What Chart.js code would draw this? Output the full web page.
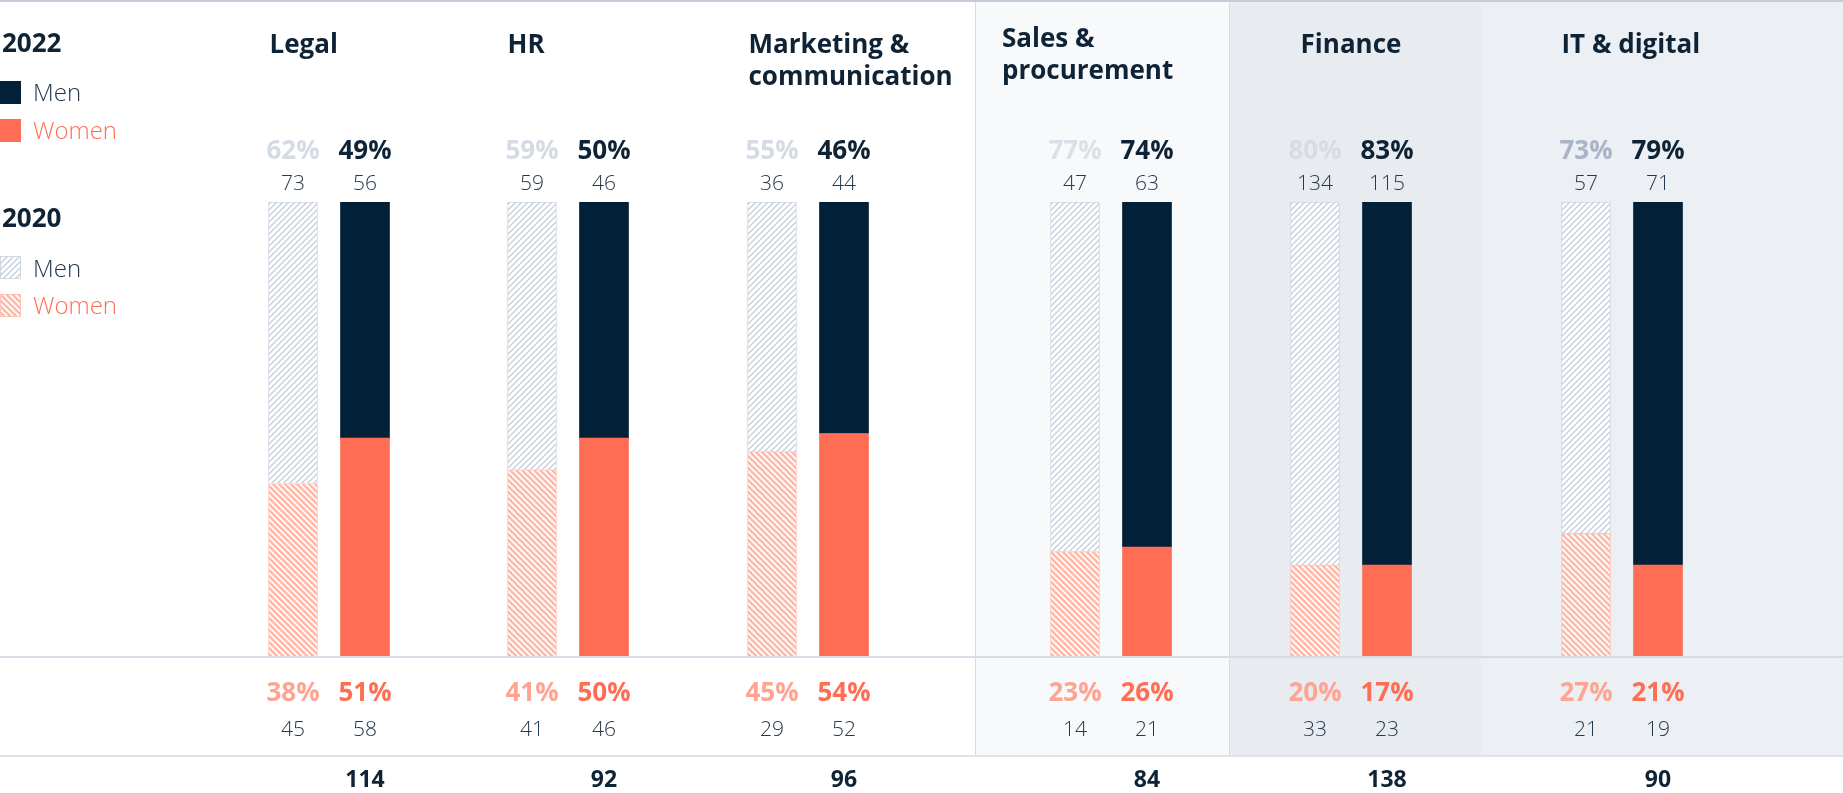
<!DOCTYPE html>
<html>
<head>
<meta charset="utf-8">
<script src="https://cdn.jsdelivr.net/npm/chart.js@4.4.1/dist/chart.umd.min.js"></script>
<style>
  html, body { margin: 0; padding: 0; background: #ffffff; }
  #stage { position: relative; width: 1843px; height: 793px; overflow: hidden; background: #ffffff; }
  .blk { position: absolute; }
  canvas { position: absolute; top: 0; }
</style>
</head>
<body>
<div id="stage">
  <div class="blk" style="left:975px;top:2px;width:254px;height:753px;background:#f8f9fb;border-left:1px solid #d6dce5;box-sizing:border-box;"></div>
  <div class="blk" style="left:1229px;top:2px;width:252px;height:753px;background:#e8ebf0;border-left:1px solid #d6dce4;box-sizing:border-box;"></div>
  <div class="blk" style="left:1481px;top:2px;width:362px;height:753px;background:#eceff3;"></div>
  <div class="blk" style="left:0;top:0;width:1843px;height:2px;background:#c3ccd8;"></div>
  <div class="blk" style="left:0;top:656px;width:1843px;height:2px;background:#d6dce5;"></div>
  <div class="blk" style="left:0;top:755px;width:1843px;height:2px;background:#e0e4ea;"></div>
</div>
<script>
// ---------------- DATA ----------------
const categories = [["Legal"], ["HR"], ["Marketing &", "communication"], ["Sales &", "procurement"], ["Finance"], ["IT & digital"]];
const years = ["2020", "2022"];

// printed shares (%)
const men2020Pct   = [62, 59, 55, 77, 80, 73];
const men2022Pct   = [49, 50, 46, 74, 83, 79];
const women2020Pct = [38, 41, 45, 23, 20, 27];
const women2022Pct = [51, 50, 54, 26, 17, 21];

// printed head counts
const men2020Count   = [73, 59, 36, 47, 134, 57];
const men2022Count   = [56, 46, 44, 63, 115, 71];
const women2020Count = [45, 41, 29, 14, 33, 21];
const women2022Count = [58, 46, 52, 21, 23, 19];
const total2022      = [114, 92, 96, 84, 138, 90];

// bar segment heights as drawn in the picture (share of 100)
const women2020Bar = [38, 41, 45, 23, 20, 27];
const men2020Bar   = [62, 59, 55, 77, 80, 73];
const women2022Bar = [48, 48, 49, 24, 20, 20];
const men2022Bar   = [52, 52, 51, 76, 80, 80];

// ---------------- LAYOUT / STYLE ----------------
const PANEL_CENTER = [328.5, 568.3, 807.7, 1110.5, 1351, 1621.6];
const CANVAS_W = 300, CANVAS_H = 793;
const PAIR_W = 144;            // width of plot area holding the two bars
const PLOT_TOP = 202, PLOT_BOTTOM = 656;
const TITLE_MODE = ["left", "left", "left", "left", "center", "left"];
const TITLE_DX   = [1, 0, 1, -48.5, 0, 0];
const TITLE_Y    = [53, 53, 53, 47, 53, 53];
const TITLE_LH   = 32;

const NAVY = "#022038";
const CORAL = "#ff6e54";
const TXT = "#0f2336";
const COUNT_TXT = "#25384c";
const MEN20_PCT_COLOR = ["#d5dbe5", "#d5dbe5", "#d5dbe5", "#dbe0e8", "#d6dbe4", "#a9b5c7"];
const WOMEN20_PCT_COLOR = "#ffa491";

const FONT = '"Open Sans", "Noto Sans", sans-serif';
const F_TITLE = "700 26px " + FONT;
const F_PCT = "700 26px " + FONT;
const F_COUNT = "300 21px " + FONT;
const F_TOTAL = "700 23px " + FONT;
const F_LEG = "300 24px " + FONT;

function hatch(color, lw, size, dir) {
  const c = document.createElement("canvas");
  c.width = c.height = size;
  const g = c.getContext("2d");
  g.fillStyle = "#ffffff";
  g.fillRect(0, 0, size, size);
  g.strokeStyle = color;
  g.lineWidth = lw;
  g.beginPath();
  if (dir === "/") {
    g.moveTo(0, size); g.lineTo(size, 0);
    g.moveTo(-size / 2, size / 2); g.lineTo(size / 2, -size / 2);
    g.moveTo(size / 2, size * 1.5); g.lineTo(size * 1.5, size / 2);
  } else {
    g.moveTo(0, 0); g.lineTo(size, size);
    g.moveTo(-size / 2, size / 2); g.lineTo(size / 2, size * 1.5);
    g.moveTo(size / 2, -size / 2); g.lineTo(size * 1.5, size / 2);
  }
  g.stroke();
  return g.createPattern(c, "repeat");
}

const MEN_HATCH = hatch("#c8d0dd", 1.5, 6, "/");
const WOMEN_HATCH = hatch("#ffb9a9", 2.6, 6, "\\");

function text(ctx, s, x, y, font, color, align) {
  ctx.font = font;
  ctx.fillStyle = color;
  ctx.textAlign = align || "center";
  ctx.textBaseline = "alphabetic";
  ctx.fillText(s, x, y);
}

const labelsPlugin = {
  id: "panelLabels",
  afterDatasetsDraw(chart) {
    const i = chart.options.plugins.panelLabels.index;
    const ctx = chart.ctx;
    const area = chart.chartArea;
    const w = chart.getDatasetMeta(0).data;
    const b20 = w[0], b22 = w[1];
    ctx.save();
    // title
    const lines = categories[i];
    let tx, align;
    if (TITLE_MODE[i] === "center") { tx = (b20.x + b22.x) / 2; align = "center"; }
    else { tx = b20.x - b20.width / 2 + TITLE_DX[i]; align = "left"; }
    lines.forEach((ln, k) => text(ctx, ln, tx, TITLE_Y[i] + k * TITLE_LH, F_TITLE, TXT, align));
    // top: men
    text(ctx, men2020Pct[i] + "%", b20.x, area.top - 43, F_PCT, MEN20_PCT_COLOR[i]);
    text(ctx, men2022Pct[i] + "%", b22.x, area.top - 43, F_PCT, TXT);
    text(ctx, String(men2020Count[i]), b20.x, area.top - 12, F_COUNT, COUNT_TXT);
    text(ctx, String(men2022Count[i]), b22.x, area.top - 12, F_COUNT, COUNT_TXT);
    // bottom: women
    text(ctx, women2020Pct[i] + "%", b20.x, area.bottom + 45, F_PCT, WOMEN20_PCT_COLOR);
    text(ctx, women2022Pct[i] + "%", b22.x, area.bottom + 45, F_PCT, CORAL);
    text(ctx, String(women2020Count[i]), b20.x, area.bottom + 80, F_COUNT, COUNT_TXT);
    text(ctx, String(women2022Count[i]), b22.x, area.bottom + 80, F_COUNT, COUNT_TXT);
    // total
    text(ctx, String(total2022[i]), b22.x, area.bottom + 131, F_TOTAL, TXT);
    ctx.restore();
  }
};

function buildPanel(i) {
  const stage = document.getElementById("stage");
  const cv = document.createElement("canvas");
  cv.width = CANVAS_W; cv.height = CANVAS_H;
  cv.style.width = CANVAS_W + "px"; cv.style.height = CANVAS_H + "px";
  cv.style.left = (PANEL_CENTER[i] - CANVAS_W / 2) + "px";
  stage.appendChild(cv);
  const side = (CANVAS_W - PAIR_W) / 2;
  new Chart(cv.getContext("2d"), {
    type: "bar",
    data: {
      labels: years,
      datasets: [
        {
          label: "Women",
          data: [women2020Bar[i], women2022Bar[i]],
          backgroundColor: [WOMEN_HATCH, CORAL],
          borderColor: ["#ffc3b6", CORAL],
          borderWidth: [1, 0],
          barThickness: 49,
          stack: "s"
        },
        {
          label: "Men",
          data: [men2020Bar[i], men2022Bar[i]],
          backgroundColor: [MEN_HATCH, NAVY],
          borderColor: ["#d0d7e2", NAVY],
          borderWidth: [1, 0],
          barThickness: 49,
          stack: "s"
        }
      ]
    },
    options: {
      responsive: false,
      animation: false,
      devicePixelRatio: 1,
      layout: { padding: { top: PLOT_TOP, bottom: CANVAS_H - PLOT_BOTTOM, left: side, right: side } },
      scales: {
        x: { type: "category", stacked: true, display: false, offset: true },
        y: { type: "linear", stacked: true, display: false, min: 0, max: 100 }
      },
      plugins: {
        legend: { display: false },
        tooltip: { enabled: false },
        panelLabels: { index: i }
      }
    },
    plugins: [labelsPlugin]
  });
}

function buildLegend() {
  const stage = document.getElementById("stage");
  const cv = document.createElement("canvas");
  cv.width = 230; cv.height = 340;
  cv.style.left = "0px";
  stage.appendChild(cv);
  const ctx = cv.getContext("2d");
  text(ctx, "2022", 2, 52, F_TITLE, TXT, "left");
  ctx.fillStyle = NAVY; ctx.fillRect(-3, 81, 24, 23);
  text(ctx, "Men", 33, 101, F_LEG, "#1f3449", "left");
  ctx.fillStyle = CORAL; ctx.fillRect(-3, 119, 24, 23);
  text(ctx, "Women", 33, 139, F_LEG, CORAL, "left");
  text(ctx, "2020", 2, 227, F_TITLE, TXT, "left");
  ctx.fillStyle = MEN_HATCH; ctx.fillRect(-3, 256, 24, 23);
  ctx.strokeStyle = "#d0d7e2"; ctx.lineWidth = 1; ctx.strokeRect(0.5, 256.5, 20, 22);
  text(ctx, "Men", 33, 277, F_LEG, "#1f3449", "left");
  ctx.fillStyle = WOMEN_HATCH; ctx.fillRect(-3, 294, 24, 23);
  ctx.strokeStyle = "#ffc3b6"; ctx.strokeRect(0.5, 294.5, 20, 22);
  text(ctx, "Women", 33, 314, F_LEG, CORAL, "left");
}

function build() {
  buildLegend();
  for (let i = 0; i < categories.length; i++) buildPanel(i);
}

const fontLoads = [F_TITLE, F_COUNT, F_LEG, F_TOTAL].map(f => document.fonts ? document.fonts.load(f).catch(() => null) : null);
Promise.all(fontLoads).then(build, build);
</script>
</body>
</html>
